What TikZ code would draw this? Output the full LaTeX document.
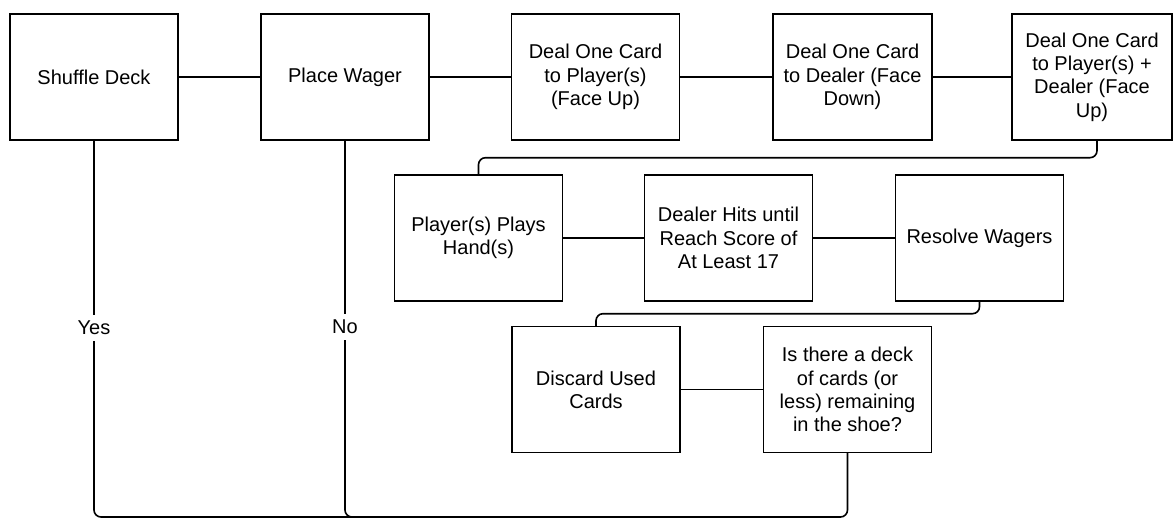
\documentclass[tikz,border=0pt]{standalone}
\usepackage{fontspec}
\setmainfont{Liberation Sans}
\usepackage{tikz}
\usetikzlibrary{calc,positioning}

\begin{document}
\begin{tikzpicture}[
    x=1pt,
    y=-1pt,
    box/.style={draw, line width=1.4pt, align=center, minimum width=168pt, minimum height=126pt, inner sep=2pt, font=\fontsize{20}{23.3}\selectfont},
    lbl/.style={align=center, inner sep=6pt, font=\fontsize{20}{23.3}\selectfont},
    line/.style={line width=1.6pt, rounded corners=7pt}
]
\useasboundingbox (0,0) rectangle (1174,519);
\node[box] (shuffle) at (94,77) {Shuffle Deck};
\node[box] (place) at (345,77) {Place Wager};
\node[box] (deal1) at (595.5,77) {Deal One Card\\to Player(s)\\(Face Up)};
\node[box, minimum width=159pt] (deal2) at (852.5,77) {Deal One Card\\to Dealer (Face\\Down)};
\node[box, minimum width=160pt] (deal3) at (1092,77) {Deal One Card\\to Player(s) +\\Dealer (Face\\Up)};
\node[box] (plays) at (478.5,238) {Player(s) Plays\\Hand(s)};
\node[box] (hits) at (728.5,238) {Dealer Hits until\\Reach Score of\\At Least 17};
\node[box] (resolve) at (979.5,238) {Resolve Wagers};
\node[box] (discard) at (596,389.5) {Discard Used\\Cards};
\node[box] (shoe) at (847.5,389.5) {Is there a deck\\of cards (or\\less) remaining\\in the shoe?};
\node[lbl] (yes) at (94,328) {Yes};
\node[lbl] (no) at (345,327) {No};
\coordinate (base) at (0,517);

\draw[line] (shuffle) -- (place);
\draw[line] (place) -- (deal1);
\draw[line] (deal1) -- (deal2);
\draw[line] (deal2) -- (deal3);
\draw[line] ($(deal3.south)+(5,0)$) -- ++(0,17) -| (plays.north);
\draw[line] (plays) -- (hits);
\draw[line] (hits) -- (resolve);
\draw[line] (resolve.south) -- ++(0,12) -| (discard.north);
\draw[line] (discard) -- (shoe);
\draw[line] (shoe.south) |- (yes.south |- base) -- (yes.south);
\draw[line] (no.south) -- (no.south |- base) -- ++(30,0);
\draw[line] (shuffle.south) -- (yes.north);
\draw[line] (place.south) -- (no.north);
\end{tikzpicture}
\end{document}
